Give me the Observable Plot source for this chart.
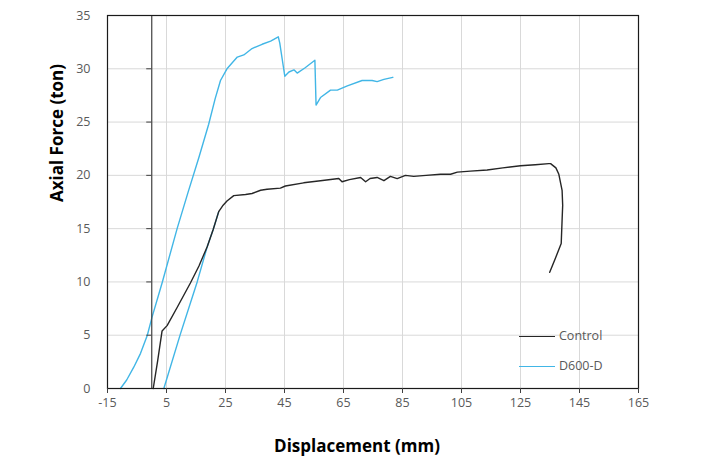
<!DOCTYPE html>
<html>
<head>
<meta charset="utf-8">
<script src="https://cdn.jsdelivr.net/npm/d3@7"></script>
<script src="https://cdn.jsdelivr.net/npm/@observablehq/plot@0.6"></script>
<style>
  body { margin: 0; background: #fff; }
  #wrap { position: relative; width: 702px; height: 469px; }
  .leg { position: absolute; font-family: "Open Sans", sans-serif; font-size: 12.5px; color: #595959; }
  .leg .ln { position: absolute; width: 36px; height: 0; }
</style>
</head>
<body>
<div id="wrap"></div>
<script>
const xTicks = [-15, 5, 25, 45, 65, 85, 105, 125, 145, 165];
const yTicks = [0, 5, 10, 15, 20, 25, 30, 35];
const seriesNames = ["Control", "D600-D"];
const seriesColors = ["#262626", "#41B6E6"];

const controlX = [0.5, 2, 3.5, 5.2, 8.6, 13.1, 16.0, 18.8, 20.8, 22.7, 24.2, 25.5, 27.8, 31.8, 34, 36.9, 39.1, 43.6, 45.3, 51.5, 57.2, 63.4, 64.5, 67, 70.8, 72.5, 74, 76.4, 78.7, 80.9, 83.2, 86.0, 88.8, 93, 97.9, 101.3, 103.6, 108, 113.7, 119, 125.0, 130, 134.6, 135.2, 137, 138.0, 139.1, 139.3, 139.1, 138.8, 136.8, 134.9];
const controlY = [0, 2.6, 5.4, 5.9, 7.6, 9.9, 11.5, 13.3, 14.9, 16.6, 17.2, 17.6, 18.1, 18.2, 18.3, 18.6, 18.7, 18.8, 19.0, 19.3, 19.5, 19.7, 19.4, 19.6, 19.8, 19.4, 19.7, 19.8, 19.5, 19.9, 19.7, 20.0, 19.9, 20.0, 20.1, 20.1, 20.3, 20.4, 20.5, 20.7, 20.9, 21.0, 21.1, 21.1, 20.7, 20.1, 18.6, 17.2, 15.8, 13.6, 12.2, 10.9];

const d600X = [-10.6, -8.5, -6.1, -3.8, -1.5, 0.1, 3.6, 8.6, 12.3, 16.0, 19.3, 21.5, 23.3, 25.5, 29.0, 31.2, 34.0, 37.4, 40.3, 42.9, 43.4, 45.1, 46.5, 48.2, 49.3, 52, 55.3, 55.7, 57.2, 60.6, 62.9, 66.3, 71.3, 74.7, 76.4, 78.7, 81.7];
const d600Y = [0, 0.8, 2.0, 3.3, 5.0, 6.7, 10.0, 15.0, 18.4, 21.7, 24.8, 27.2, 28.9, 30.0, 31.1, 31.3, 31.9, 32.3, 32.6, 33.0, 32.4, 29.3, 29.7, 29.9, 29.6, 30.1, 30.8, 26.6, 27.3, 28.0, 28.0, 28.4, 28.9, 28.9, 28.8, 29.0, 29.2];

const d600bX = [4.1, 9.7, 15.4, 18.8, 20.8, 22.7];
const d600bY = [0, 5.1, 10.0, 13.3, 14.9, 16.6];

const control = controlX.map((x, i) => ({x, y: controlY[i]}));
const d600 = d600X.map((x, i) => ({x, y: d600Y[i], seg: "a"}))
  .concat(d600bX.map((x, i) => ({x, y: d600bY[i], seg: "b"})));

const font = '"Open Sans", sans-serif';

const chart = Plot.plot({
  width: 702,
  height: 469,
  marginLeft: 107,
  marginRight: 64,
  marginTop: 15,
  marginBottom: 81,
  style: {fontFamily: font, fontSize: "12px", background: "#fff", overflow: "visible"},
  x: {domain: [-15, 165]},
  y: {domain: [0, 35]},
  marks: [
    Plot.ruleX(xTicks, {stroke: "#D9D9D9", strokeWidth: 1}),
    Plot.ruleY(yTicks, {stroke: "#D9D9D9", strokeWidth: 1}),
    Plot.line(d600, {x: "x", y: "y", z: "seg", stroke: seriesColors[1], strokeWidth: 1.4}),
    Plot.line(control, {x: "x", y: "y", stroke: seriesColors[0], strokeWidth: 1.4}),
    Plot.ruleX([0], {stroke: "#404040", strokeWidth: 1.2}),
    Plot.ruleY(yTicks, {x1: -1.7, x2: 0, stroke: "#404040", strokeWidth: 1}),
    Plot.frame({stroke: "#1a1a1a", strokeWidth: 1.2}),
    Plot.axisX(xTicks, {tickSize: 5, tickPadding: 5, tickFormat: d => String(d), fill: "#595959", stroke: "#404040", fontSize: 12.5, label: null}),
    Plot.axisY(yTicks, {tickSize: 0, tickPadding: 17, tickFormat: d => String(d), fill: "#595959", fontSize: 12.5, label: null}),
    Plot.text(["Displacement (mm)"], {frameAnchor: "bottom", dy: 63, dx: -16, text: d => d, fontWeight: "bold", fontSize: 17, fill: "#000"}),
    Plot.text(["Axial Force (ton)"], {frameAnchor: "left", dx: -50, rotate: -90, text: d => d, fontWeight: "bold", fontSize: 17, fill: "#000"})
  ]
});

const wrap = document.getElementById("wrap");
wrap.appendChild(chart);

seriesNames.forEach((name, i) => {
  const top = [327, 357][i];
  const ln = document.createElement("div");
  ln.className = "leg";
  ln.style.left = "519px";
  ln.style.top = top + "px";
  ln.innerHTML = `<div class="ln" style="top:9px;left:0;border-top:1.5px solid ${seriesColors[i]}"></div><span style="margin-left:40px">${name}</span>`;
  wrap.appendChild(ln);
});
</script>
</body>
</html>
